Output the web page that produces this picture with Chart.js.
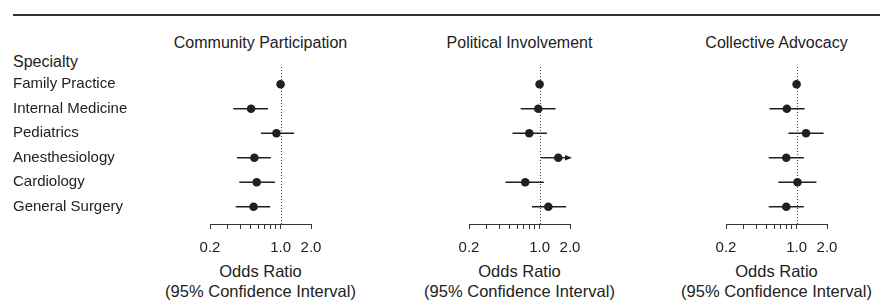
<!DOCTYPE html>
<html lang="en">
<head>
<meta charset="UTF-8">
<title>Odds Ratios by Specialty</title>
<script src="https://cdn.jsdelivr.net/npm/chart.js@4.4.0/dist/chart.umd.min.js"></script>
<style>
  html, body { margin: 0; padding: 0; background: #fff; }
  body { width: 880px; height: 301px; position: relative; overflow: hidden;
         font-family: "Liberation Sans", Arial, Helvetica, sans-serif; color: #222; }
  .rule { position: absolute; left: 13px; right: 0; top: 14px; height: 1.5px; background: #333; }
  .txt { position: absolute; font-size: 16px; white-space: nowrap; line-height: 18px; }
  .title { transform: translateX(-50%); }
  .axt { position: absolute; transform: translateX(-50%); top: 261px; font-size: 16.5px;
         line-height: 20px; text-align: center; white-space: nowrap; }
  canvas { position: absolute; top: 0; }
</style>
</head>
<body>
<div class="rule"></div>
<div class="txt" style="left:13px; top:53px;">Specialty</div>
<div id="labels"></div>
<canvas id="c0" style="left:0px" width="340" height="301"></canvas>
<canvas id="c1" style="left:440px" width="160" height="301"></canvas>
<canvas id="c2" style="left:697px" width="160" height="301"></canvas>
<script>
const specialties = ['Family Practice', 'Internal Medicine', 'Pediatrics', 'Anesthesiology', 'Cardiology', 'General Surgery'];
const panelTitles = ['Community Participation', 'Political Involvement', 'Collective Advocacy'];
const axisTitle = ['Odds Ratio', '(95% Confidence Interval)'];

const communityOR = [1.0, 0.51, 0.91, 0.55, 0.58, 0.54];
const communityLo = [null, 0.34, 0.64, 0.37, 0.39, 0.36];
const communityHi = [null, 0.75, 1.36, 0.80, 0.88, 0.79];

const politicalOR = [1.0, 0.97, 0.79, 1.53, 0.72, 1.22];
const politicalLo = [null, 0.65, 0.54, 1.03, 0.46, 0.84];
const politicalHi = [null, 1.44, 1.18, 2.3, 1.10, 1.83];

const advocacyOR = [1.0, 0.80, 1.24, 0.79, 1.02, 0.79];
const advocacyLo = [null, 0.54, 0.83, 0.53, 0.66, 0.53];
const advocacyHi = [null, 1.20, 1.85, 1.18, 1.57, 1.18];

const tickValues = [0.2, 0.3, 0.4, 0.5, 0.6, 0.7, 0.8, 0.9, 1.0, 2.0];
const tickLabels = { 0.2: '0.2', 1: '1.0', 2: '2.0' };

const ink = '#231f20';
const fontFamily = '"Liberation Sans", Arial, Helvetica, sans-serif';

// confidence interval whiskers + reference line at OR = 1
const forestPlugin = {
  id: 'forest',
  beforeDatasetsDraw(chart) {
    const ctx = chart.ctx;
    const x = chart.scales.x, y = chart.scales.y;
    const area = chart.chartArea;
    const ci = chart.options.plugins.forest;

    ctx.save();
    ctx.strokeStyle = '#444';
    ctx.lineWidth = 1;
    ctx.setLineDash([1, 2]);
    const x1 = Math.round(x.getPixelForValue(1)) + 0.5;
    ctx.beginPath();
    ctx.moveTo(x1, area.top);
    ctx.lineTo(x1, area.bottom);
    ctx.stroke();
    ctx.setLineDash([]);

    ctx.strokeStyle = ink;
    ctx.fillStyle = ink;
    ctx.lineWidth = 1.4;
    ci.lo.forEach((lo, i) => {
      const hi = ci.hi[i];
      if (lo == null || hi == null) return;
      const py = y.getPixelForValue(i);
      const over = hi > x.max;
      const xa = x.getPixelForValue(lo);
      const xb = x.getPixelForValue(over ? x.max : hi);
      ctx.beginPath();
      ctx.moveTo(xa, py);
      ctx.lineTo(xb, py);
      ctx.stroke();
      if (over) {
        ctx.beginPath();
        ctx.moveTo(xb + 2, py);
        ctx.lineTo(xb - 5, py - 2.8);
        ctx.lineTo(xb - 5, py + 2.8);
        ctx.closePath();
        ctx.fill();
      }
    });
    ctx.restore();
  }
};

function makePanel(id, or, lo, hi, showLabels) {
  const canvas = document.getElementById(id);
  const width = canvas.width;
  const padLeft = showLabels ? 13 : 29;
  const padRight = showLabels ? width - 311 : width - 29 - 101;
  return new Chart(canvas.getContext('2d'), {
    type: 'scatter',
    data: {
      datasets: [{
        data: or.map((v, i) => ({ x: v, y: i })),
        backgroundColor: ink,
        borderWidth: 0,
        pointRadius: 4.3,
        pointHoverRadius: 4.3
      }]
    },
    plugins: [forestPlugin],
    options: {
      responsive: false,
      animation: false,
      events: [],
      layout: { padding: { left: padLeft, right: padRight, top: 67, bottom: 2 } },
      plugins: {
        legend: { display: false },
        tooltip: { enabled: false },
        forest: { lo: lo, hi: hi }
      },
      scales: {
        x: {
          type: 'logarithmic',
          min: 0.2,
          max: 2.0,
          afterBuildTicks: s => { s.ticks = tickValues.map(v => ({ value: v })); },
          afterFit: s => { s.height = 75; },
          grid: { drawOnChartArea: false, drawTicks: true, tickLength: 5, color: '#333', lineWidth: 1 },
          border: { display: true, color: '#333', width: 1 },
          ticks: {
            autoSkip: false,
            maxRotation: 0,
            padding: 10,
            color: '#222',
            font: { family: fontFamily, size: 15 },
            callback: v => tickLabels[v] || ''
          }
        },
        y: {
          type: 'linear',
          reverse: true,
          min: -0.707,
          max: 5.707,
          display: showLabels,
          afterBuildTicks: s => { s.ticks = specialties.map((_, i) => ({ value: i })); },
          afterFit: s => { if (showLabels) s.width = 197; },
          grid: { display: false },
          border: { display: false },
          ticks: {
            crossAlign: 'far',
            color: '#222',
            font: { family: fontFamily, size: 15 },
            callback: v => specialties[v]
          }
        }
      }
    }
  });
}

const charts = [
  makePanel('c0', communityOR, communityLo, communityHi, true),
  makePanel('c1', politicalOR, politicalLo, politicalHi, false),
  makePanel('c2', advocacyOR, advocacyLo, advocacyHi, false)
];

// panel titles and axis titles, centred on each chart's x axis
const holder = document.getElementById('labels');
charts.forEach((chart, i) => {
  const a = chart.chartArea;
  const cx = chart.canvas.offsetLeft + (a.left + a.right) / 2;
  const t = document.createElement('div');
  t.className = 'txt title';
  t.style.left = cx + 'px';
  t.style.top = '34px';
  t.textContent = panelTitles[i];
  holder.appendChild(t);
  const ax = document.createElement('div');
  ax.className = 'axt';
  ax.style.left = cx + 'px';
  ax.innerHTML = axisTitle.join('<br>');
  holder.appendChild(ax);
});
</script>
</body>
</html>
